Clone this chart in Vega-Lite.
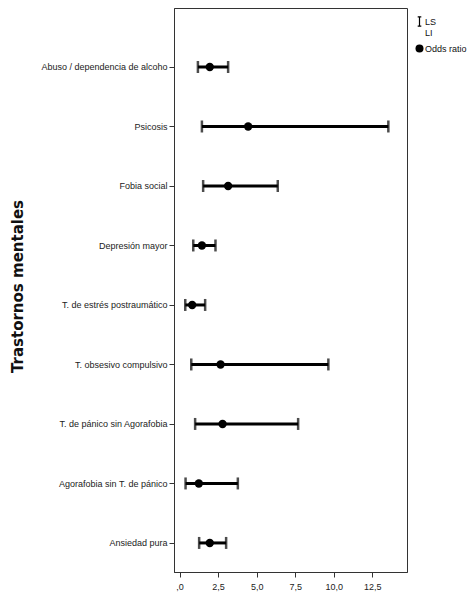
{
  "$schema": "https://vega.github.io/schema/vega-lite/v6.json",
  "autosize": {"type": "none"},
  "padding": {"left": 174, "top": 8, "right": 60, "bottom": 25},
  "width": 233,
  "height": 564,
  "background": "white",
  "config": {
    "view": {"stroke": "#333", "strokeWidth": 1},
    "font": "Liberation Sans",
    "axis": {"domainColor": "#333", "tickColor": "#333", "labelColor": "#222", "labelFont": "Liberation Sans", "labelFontSize": 9, "grid": false}
  },
  "data": {
    "values": [
      {"trastorno": "Abuso / dependencia  de alcoho", "or": 1.96, "li": 1.19, "ls": 3.15},
      {"trastorno": "Psicosis", "or": 4.45, "li": 1.45, "ls": 13.54},
      {"trastorno": "Fobia social", "or": 3.15, "li": 1.53, "ls": 6.37},
      {"trastorno": "Depresión mayor", "or": 1.45, "li": 0.89, "ls": 2.33},
      {"trastorno": "T. de estrés postraumático", "or": 0.82, "li": 0.37, "ls": 1.66},
      {"trastorno": "T. obsesivo compulsivo", "or": 2.66, "li": 0.76, "ls": 9.65},
      {"trastorno": "T. de pánico sin Agorafobia", "or": 2.79, "li": 1.01, "ls": 7.69},
      {"trastorno": "Agorafobia sin T. de pánico", "or": 1.25, "li": 0.39, "ls": 3.78},
      {"trastorno": "Ansiedad pura", "or": 1.96, "li": 1.27, "ls": 3.02}
    ]
  },
  "encoding": {
    "y": {
      "field": "trastorno", "type": "nominal", "sort": null,
      "scale": {"type": "point", "padding": 0.74, "align": 0.67},
      "axis": {
        "title": "Trastornos mentales", "titleFont": "DejaVu Sans", "titleFontWeight": "bold", "titleFontSize": 15, "titleColor": "#111",
        "titleX": -152, "titleY": 278, "titleAngle": -90, "titleAlign": "center", "titleBaseline": "alphabetic",
        "tickSize": 5, "labelPadding": 2
      }
    }
  },
  "layer": [
    {
      "mark": {"type": "rule", "color": "black", "strokeWidth": 3},
      "encoding": {
        "x": {"field": "li", "type": "quantitative",
          "scale": {"domain": [-0.36, 14.75], "nice": false, "zero": false},
          "axis": {"title": null, "values": [0, 2.5, 5, 7.5, 10, 12.5], "tickSize": 5, "labelPadding": 5,
            "labelExpr": "datum.value == 0 ? ',0' : replace(format(datum.value, '.1f'), '.', ',')"}},
        "x2": {"field": "ls"}
      }
    },
    {
      "mark": {"type": "tick", "color": "black", "size": 12, "thickness": 2.5, "orient": "vertical"},
      "encoding": {"x": {"field": "li", "type": "quantitative"}}
    },
    {
      "mark": {"type": "tick", "color": "black", "size": 12, "thickness": 2.5, "orient": "vertical"},
      "encoding": {"x": {"field": "ls", "type": "quantitative"}}
    },
    {
      "mark": {"type": "point", "filled": true, "color": "black", "size": 70, "opacity": 1},
      "encoding": {
        "x": {"field": "or", "type": "quantitative"},
        "shape": {
          "datum": "Odds ratio",
          "scale": {"domain": ["LS", "Odds ratio"], "range": ["M-0.45,-1.3H0.45V-1H0.15V1H0.45V1.3H-0.45V1H-0.15V-1H-0.45Z", "circle"]},
          "legend": {
            "title": null, "orient": "none", "legendX": 241, "legendY": 9,
            "symbolSize": 64, "symbolStrokeColor": "black", "symbolStrokeWidth": 0, "symbolFillColor": "black", "symbolOpacity": 1,
            "labelFont": "Liberation Sans", "labelFontSize": 9, "labelColor": "#111", "labelOffset": 1, "rowPadding": 6,
            "labelExpr": "datum.label == 'LS' ? ['LS', 'LI'] : datum.label"
          }
        }
      }
    }
  ]
}
